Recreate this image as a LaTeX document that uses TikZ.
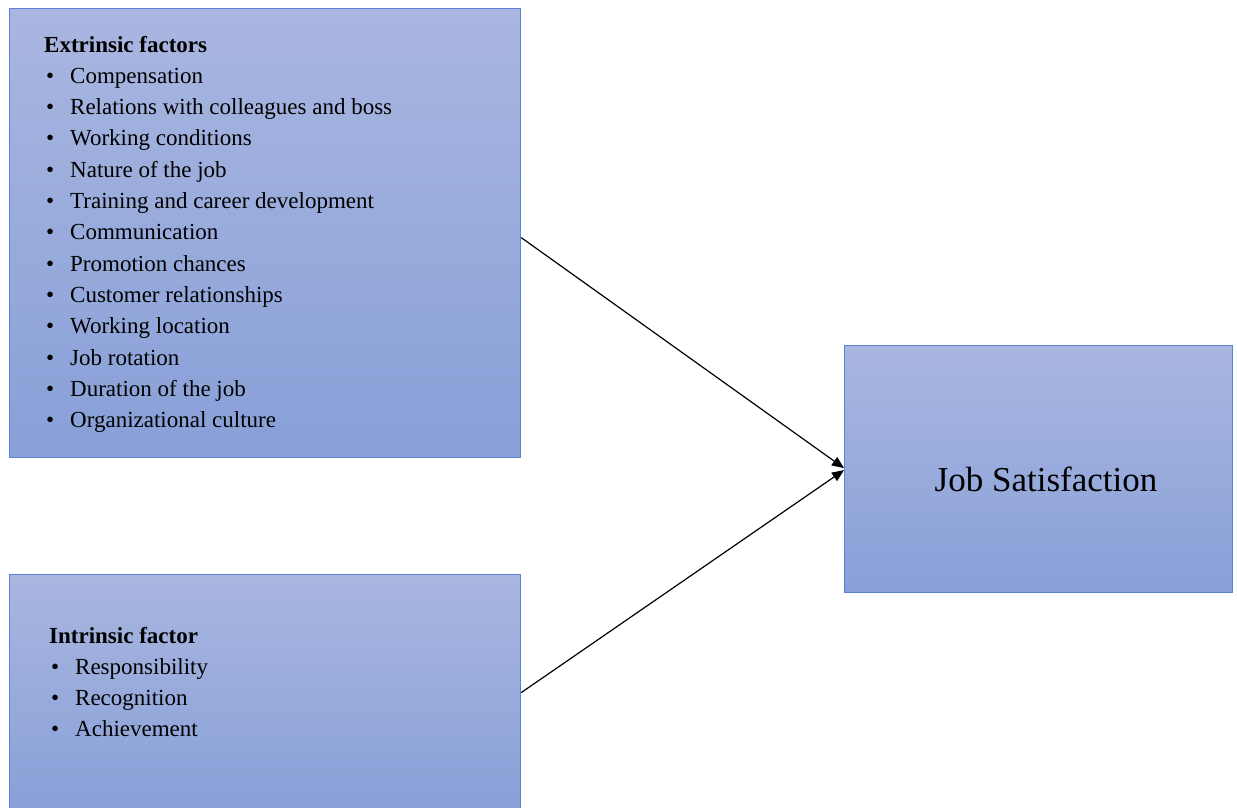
\documentclass[tikz,border=0pt]{standalone}
\usepackage{fontspec}
\setmainfont{Liberation Serif}
\usetikzlibrary{arrows.meta}
\definecolor{boxtop}{HTML}{A9B6E0}
\definecolor{boxbot}{HTML}{88A0D8}
\definecolor{boxline}{HTML}{5A84D2}
\newcommand\itm[1]{\makebox[26pt][l]{\hspace{2pt}\textbullet}#1}
\begin{document}
\begin{tikzpicture}[x=1pt,y=-1pt,
  fbox/.style={draw=boxline,line width=1.2pt,top color=boxtop,bottom color=boxbot,
    anchor=north west,inner sep=0pt},
  ltxt/.style={anchor=base west,inner sep=0pt,font=\fontsize{23}{28}\selectfont},
  arr/.style={line width=1.2pt,-{Triangle[length=12pt,width=10pt]}}]
\useasboundingbox (0,0) rectangle (1237,807);
\clip (0,0) rectangle (1237,807);
\node[fbox,minimum width=511pt,minimum height=449pt] (ext) at (9,8) {};
\node[fbox,minimum width=511pt,minimum height=236pt] (intr) at (9,574) {};
\node[fbox,minimum width=388pt,minimum height=247pt] (job) at (844,345) {};
\node[anchor=base,inner sep=0pt,font=\fontsize{35}{40}\selectfont] (jobt) at (1046,491) {Job Satisfaction};
\node[ltxt] (e0) at (44,52) {\textbf{Extrinsic factors}};
\foreach \t [count=\i] in {Compensation,Relations with colleagues and boss,Working conditions,Nature of the job,Training and career development,Communication,Promotion chances,Customer relationships,Working location,Job rotation,Duration of the job,Organizational culture}
  \node[ltxt] (e\i) at (44,52+31.3*\i) {\itm{\t}};
\node[ltxt] (i0) at (49,643) {\textbf{Intrinsic factor}};
\foreach \t [count=\i] in {Responsibility,Recognition,Achievement}
  \node[ltxt] (i\i) at (49,643+31*\i) {\itm{\t}};
\draw[arr] ([yshift=-4.5pt]ext.east) -- ([yshift=1pt]job.west);
\draw[arr] (intr.east) -- ([yshift=-1pt]job.west);
\end{tikzpicture}
\end{document}
